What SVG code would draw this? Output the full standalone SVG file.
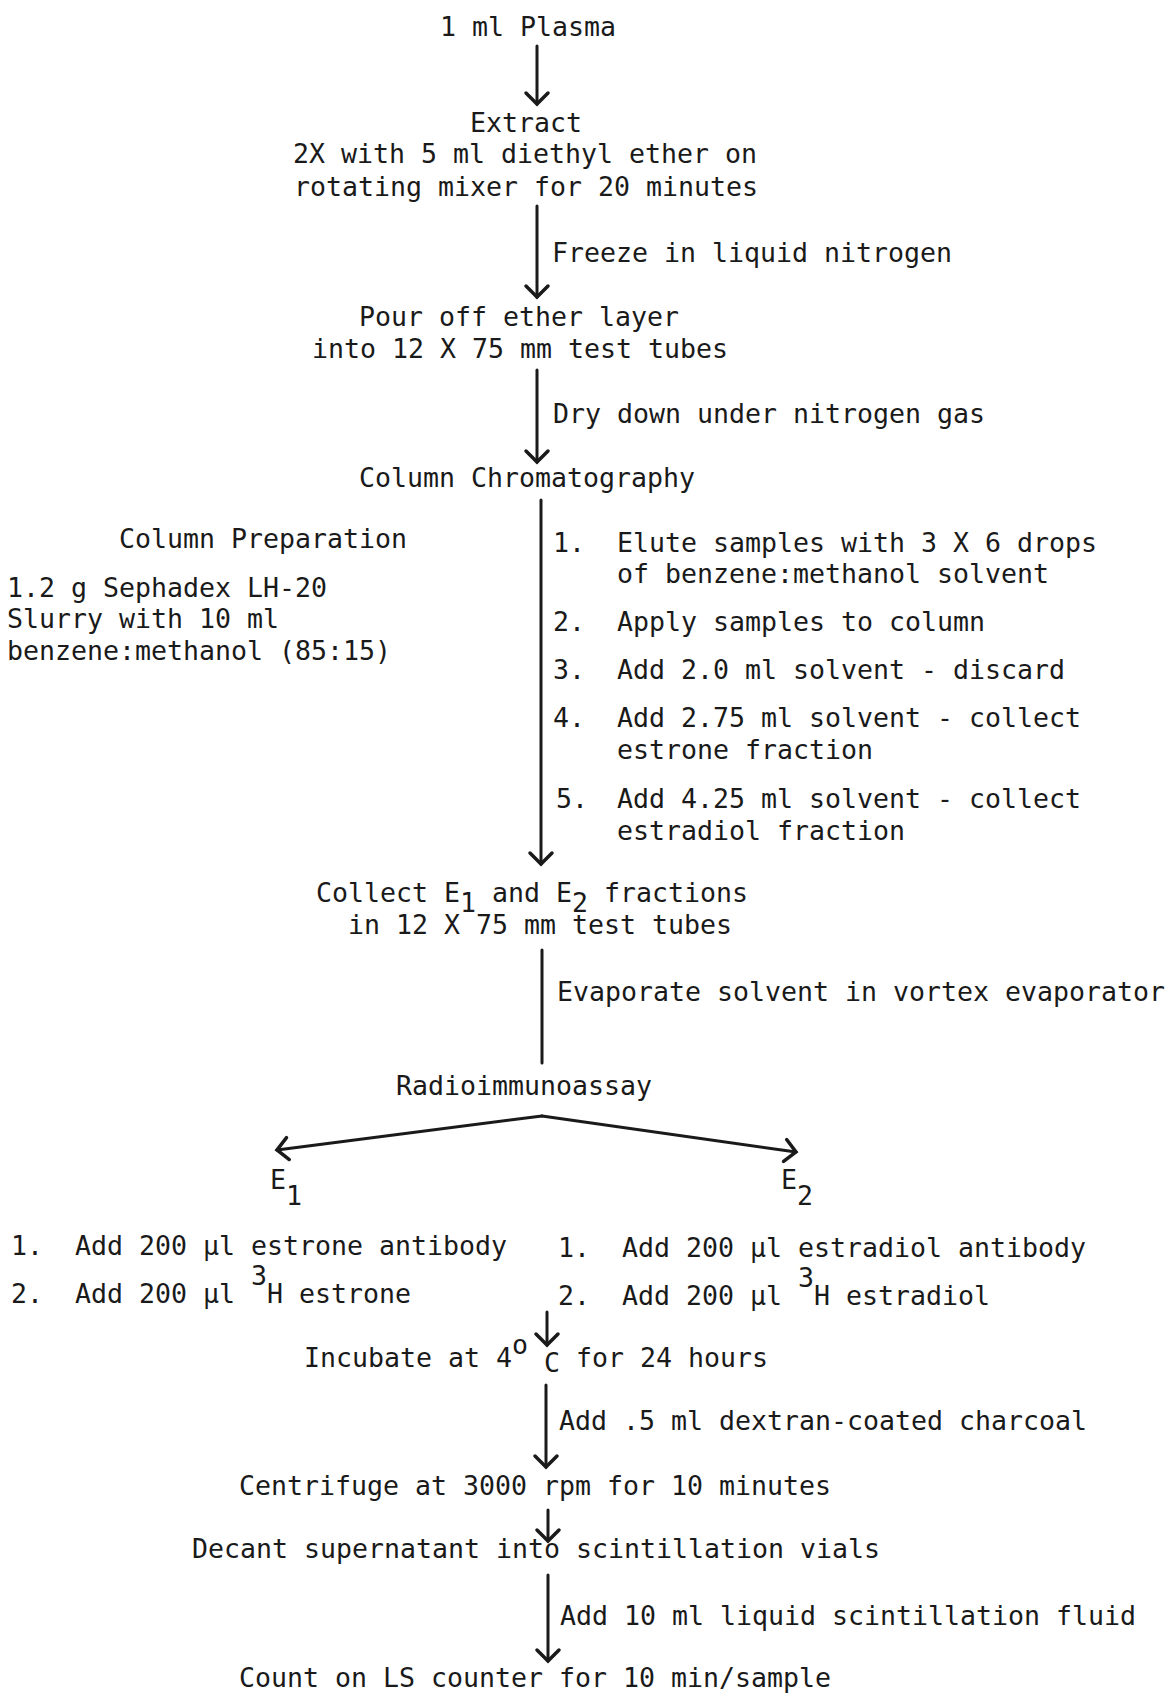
<svg xmlns="http://www.w3.org/2000/svg" width="1172" height="1695" viewBox="0 0 1172 1695" xml:space="preserve">
<style>
text { font-family: "DejaVu Sans Mono", "Liberation Mono", monospace; font-size: 26.58px; fill: #1a1a1a; white-space: pre; }
.cn line, .cn path { stroke: #1a1a1a; stroke-width: 3; fill: none; stroke-linecap: round; }
</style>
<defs>
<marker id="ah" markerUnits="userSpaceOnUse" viewBox="-14 -14 28 28" markerWidth="28" markerHeight="28" refX="0" refY="0" orient="auto" overflow="visible">
<path d="M-11,-11 L0,0 L-11,11" fill="none" stroke="#1a1a1a" stroke-width="3.5" stroke-linecap="round"/>
</marker>
</defs>
<rect width="1172" height="1695" fill="#ffffff"/>

<g id="plasma"><text x="440" y="36">1 ml Plasma</text></g>
<g id="extract">
<text x="470" y="132">Extract</text>
<text x="293" y="163">2X with 5 ml diethyl ether on</text>
<text x="294" y="196">rotating mixer for 20 minutes</text>
</g>
<g id="freeze-label"><text x="552" y="262">Freeze in liquid nitrogen</text></g>
<g id="pour">
<text x="359" y="326">Pour off ether layer</text>
<text x="312" y="358">into 12 X 75 mm test tubes</text>
</g>
<g id="dry-label"><text x="553" y="423">Dry down under nitrogen gas</text></g>
<g id="column"><text x="359" y="487">Column Chromatography</text></g>
<g id="column-prep">
<text x="119" y="548">Column Preparation</text>
<text x="7" y="597">1.2 g Sephadex LH-20</text>
<text x="7" y="628">Slurry with 10 ml</text>
<text x="7" y="660">benzene:methanol (85:15)</text>
</g>
<g id="column-steps">
<text x="553" y="552">1.</text><text x="617" y="552">Elute samples with 3 X 6 drops</text>
<text x="617" y="583">of benzene:methanol solvent</text>
<text x="553" y="631">2.</text><text x="617" y="631">Apply samples to column</text>
<text x="553" y="679">3.</text><text x="617" y="679">Add 2.0 ml solvent - discard</text>
<text x="553" y="727">4.</text><text x="617" y="727">Add 2.75 ml solvent - collect</text>
<text x="617" y="759">estrone fraction</text>
<text x="556" y="808">5.</text><text x="617" y="808">Add 4.25 ml solvent - collect</text>
<text x="617" y="840">estradiol fraction</text>
</g>
<g id="collect">
<text x="316" y="902">Collect E<tspan dy="10">1</tspan><tspan dy="-10"> and E</tspan><tspan dy="10">2</tspan><tspan dy="-10"> fractions</tspan></text>
<text x="348" y="934">in 12 X 75 mm test tubes</text>
</g>
<g id="evap-label"><text x="557" y="1001">Evaporate solvent in vortex evaporator</text></g>
<g id="ria"><text x="396" y="1095">Radioimmunoassay</text></g>
<g id="e1">
<text x="270" y="1189">E<tspan dy="16">1</tspan></text>
<text x="11" y="1255">1.</text><text x="75" y="1255">Add 200 μl estrone antibody</text>
<text x="11" y="1303">2.</text><text x="75" y="1303">Add 200 μl</text><text x="251" y="1285">3</text><text x="267" y="1303">H estrone</text>
</g>
<g id="e2">
<text x="781" y="1189">E<tspan dy="16">2</tspan></text>
<text x="558" y="1257">1.</text><text x="622" y="1257">Add 200 μl estradiol antibody</text>
<text x="558" y="1305">2.</text><text x="622" y="1305">Add 200 μl</text><text x="798" y="1287">3</text><text x="814" y="1305">H estradiol</text>
</g>
<g id="incubate"><text x="304" y="1367">Incubate at 4</text><text x="512" y="1354">o</text><text x="544" y="1372">C</text><text x="576" y="1367">for 24 hours</text></g>
<g id="charcoal-label"><text x="559" y="1430">Add .5 ml dextran-coated charcoal</text></g>
<g id="centrifuge"><text x="239" y="1495">Centrifuge at 3000 rpm for 10 minutes</text></g>
<g id="decant"><text x="192" y="1558">Decant supernatant into scintillation vials</text></g>
<g id="fluid-label"><text x="560" y="1625">Add 10 ml liquid scintillation fluid</text></g>
<g id="count"><text x="239" y="1687">Count on LS counter for 10 min/sample</text></g>

<g id="connectors" class="cn">
<line x1="537" y1="46" x2="537" y2="104" marker-end="url(#ah)"/>
<line x1="537" y1="206" x2="537" y2="297" marker-end="url(#ah)"/>
<line x1="537" y1="370" x2="537" y2="462" marker-end="url(#ah)"/>
<line x1="541" y1="500" x2="541" y2="864" marker-end="url(#ah)"/>
<line x1="542" y1="950" x2="542" y2="1063"/>
<path d="M542,1116 L277,1150" marker-end="url(#ah)"/>
<path d="M542,1116 L796,1152" marker-end="url(#ah)"/>
<line x1="547" y1="1312" x2="547" y2="1345" marker-end="url(#ah)"/>
<line x1="546" y1="1385" x2="546" y2="1467" marker-end="url(#ah)"/>
<line x1="548" y1="1510" x2="548" y2="1541" marker-end="url(#ah)"/>
<line x1="548" y1="1575" x2="548" y2="1661" marker-end="url(#ah)"/>
</g>
</svg>
